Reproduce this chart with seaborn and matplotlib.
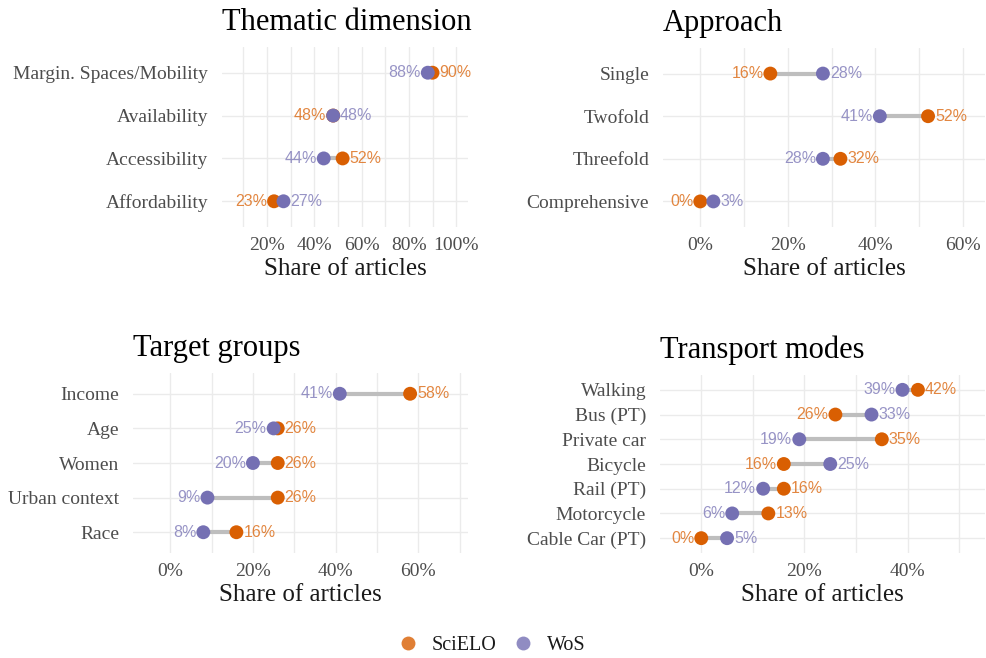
import matplotlib
matplotlib.use("Agg")
import matplotlib.pyplot as plt
import matplotlib.ticker as mticker
from matplotlib.lines import Line2D
import numpy as np
import pandas as pd
import seaborn as sns

# ---- data -------------------------------------------------------------
thematic_cats = ["Margin. Spaces/Mobility", "Availability", "Accessibility", "Affordability"]
thematic_scielo = [0.90, 0.48, 0.52, 0.23]
thematic_wos = [0.88, 0.48, 0.44, 0.27]

approach_cats = ["Single", "Twofold", "Threefold", "Comprehensive"]
approach_scielo = [0.16, 0.52, 0.32, 0.00]
approach_wos = [0.28, 0.41, 0.28, 0.03]

target_cats = ["Income", "Age", "Women", "Urban context", "Race"]
target_scielo = [0.58, 0.26, 0.26, 0.26, 0.16]
target_wos = [0.41, 0.25, 0.20, 0.09, 0.08]

transport_cats = ["Walking", "Bus (PT)", "Private car", "Bicycle", "Rail (PT)",
                  "Motorcycle", "Cable Car (PT)"]
transport_scielo = [0.42, 0.26, 0.35, 0.16, 0.16, 0.13, 0.00]
transport_wos = [0.39, 0.33, 0.19, 0.25, 0.12, 0.06, 0.05]

SOURCES = ["SciELO", "WoS"]
COLORS = {"SciELO": "#D95F02", "WoS": "#7570B3"}
SEGMENT = "#BEBEBE"


def setup_style() -> None:
    sns.set_theme(style="whitegrid")
    plt.rcParams.update(
        {
            "font.family": ["Liberation Serif", "DejaVu Serif"],
            "axes.spines.top": False,
            "axes.spines.right": False,
            "axes.spines.left": False,
            "axes.spines.bottom": False,
            "grid.color": "#EBEBEB",
            "grid.linewidth": 1.0,
            "figure.facecolor": "white",
            "axes.facecolor": "white",
        }
    )


def dumbbell(ax, title, cats, scielo, wos, xlim):
    df = pd.DataFrame(
        {
            "category": cats * 2,
            "share": list(scielo) + list(wos),
            "source": ["SciELO"] * len(cats) + ["WoS"] * len(cats),
        }
    )
    for i, (s, w) in enumerate(zip(scielo, wos)):
        ax.hlines(i, min(s, w), max(s, w), color=SEGMENT, linewidth=3, zorder=0.8)

    sns.stripplot(
        data=df, x="share", y="category", hue="source", order=cats,
        hue_order=SOURCES, palette=COLORS, jitter=False, size=10,
        linewidth=0, legend=False, ax=ax, zorder=2,
    )

    for i, (s, w) in enumerate(zip(scielo, wos)):
        left_src, right_src = ("SciELO", "WoS") if s <= w else ("WoS", "SciELO")
        vals = {"SciELO": s, "WoS": w}
        ax.annotate(f"{vals[left_src]:.0%}", (vals[left_src], i), xytext=(-5, 0),
                    textcoords="offset points", ha="right", va="center",
                    fontsize=11.5, family="Liberation Sans",
                    color=COLORS[left_src], alpha=0.75)
        ax.annotate(f"{vals[right_src]:.0%}", (vals[right_src], i), xytext=(5, 0),
                    textcoords="offset points", ha="left", va="center",
                    fontsize=11.5, family="Liberation Sans",
                    color=COLORS[right_src], alpha=0.75)

    ax.set_xlim(*xlim)
    ax.set_ylim(len(cats) - 1 + 0.6, -0.6)
    ax.xaxis.set_major_locator(mticker.MultipleLocator(0.2))
    ax.xaxis.set_minor_locator(mticker.MultipleLocator(0.1))
    ax.xaxis.set_major_formatter(mticker.PercentFormatter(xmax=1, decimals=0))
    ax.grid(True, which="both", axis="x", color="#EBEBEB", linewidth=1.0)
    ax.grid(True, which="major", axis="y", color="#EBEBEB", linewidth=1.0)
    ax.set_axisbelow(True)
    ax.tick_params(axis="both", which="both", length=0, labelsize=14, colors="#4D4D4D")
    ax.tick_params(axis="x", pad=7)
    ax.tick_params(axis="y", pad=10)
    ax.set_ylabel("")
    ax.set_xlabel("Share of articles", fontsize=18, color="#1A1A1A", labelpad=3)
    ax.set_title(title, loc="left", fontsize=22, color="black", pad=12)


def main() -> None:
    setup_style()
    W, H = 987, 658
    fig = plt.figure(figsize=(W / 100, H / 100), dpi=100)

    def box(l, t, r, b):
        return [l / W, 1 - b / H, (r - l) / W, (b - t) / H]

    ax1 = fig.add_axes(box(222, 47, 468, 227))
    ax2 = fig.add_axes(box(663, 48, 985, 227))
    ax3 = fig.add_axes(box(133, 373, 468, 553))
    ax4 = fig.add_axes(box(660, 375, 985, 553))

    dumbbell(ax1, "Thematic dimension", thematic_cats, thematic_scielo, thematic_wos, (0.01, 1.05))
    dumbbell(ax2, "Approach", approach_cats, approach_scielo, approach_wos, (-0.085, 0.65))
    dumbbell(ax3, "Target groups", target_cats, target_scielo, target_wos, (-0.09, 0.72))
    dumbbell(ax4, "Transport modes", transport_cats, transport_scielo, transport_wos, (-0.08, 0.55))

    handles = [
        Line2D([], [], marker="o", linestyle="", markersize=10,
               markerfacecolor=COLORS[s], markeredgewidth=0, alpha=0.8, label=s)
        for s in SOURCES
    ]
    fig.legend(handles=handles, loc="center", bbox_to_anchor=(0.497, 1 - 645 / H),
               ncol=2, frameon=False, fontsize=14.5, handletextpad=0.6,
               columnspacing=0.7, handlelength=1.2, labelcolor="#1A1A1A")

    fig.savefig("out.png", dpi=100)
    plt.close(fig)


if __name__ == "__main__":
    main()
